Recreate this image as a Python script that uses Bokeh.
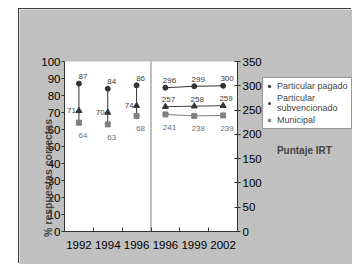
import math
from bokeh.plotting import figure
from bokeh.models import Range1d, LinearAxis, FixedTicker, Label, Legend, LegendItem, BoxAnnotation
from bokeh.embed import file_html
from bokeh.resources import INLINE
from bokeh.core.properties import value

# ---- data ----
years_pct = ["1992", "1994", "1996"]
pagado_pct = [87, 84, 86]
subv_pct = [71, 70, 74]
muni_pct = [64, 63, 68]

years_irt = ["1996", "1999", "2002"]
pagado_irt = [296, 299, 300]
subv_irt = [257, 258, 259]
muni_irt = [241, 238, 239]

pct_ticks = list(range(0, 101, 10))
irt_ticks = list(range(0, 351, 50))

categories = years_pct + years_irt
x_pct = [i + 0.5 for i in range(len(years_pct))]
x_irt = [len(years_pct) + i + 0.5 for i in range(len(years_irt))]

FONT = "Liberation Sans"
DARK = "#333333"
GREY = "#808080"
BG = "#c0c0c0"

# ---- layout geometry (pixels) ----
W, H = 333, 255          # whole chart (grey area)
PL, PR = 45, 218         # plot area left / right inside chart
PT, PB = 52, 222         # plot area top / bottom inside chart
ncat = len(categories)
px_per_cat = (PR - PL) / ncat
pct_max, irt_max = pct_ticks[-1], irt_ticks[-1]
px_per_pct = (PB - PT) / pct_max
px_per_irt = (PB - PT) / irt_max

x_range = Range1d(-PL / px_per_cat, ncat + (W - PR) / px_per_cat)
y_range = Range1d(-(H - PB) / px_per_pct, pct_max + PT / px_per_pct)
irt_range = Range1d(-(H - PB) / px_per_irt, irt_max + PT / px_per_irt)

p = figure(frame_width=W, frame_height=H, min_border=0,
           x_range=x_range, y_range=y_range,
           output_backend="svg", toolbar_location=None,
           background_fill_color=BG, border_fill_color=BG,
           outline_line_color=None, x_axis_location=None, y_axis_location=None)
p.margin = (9, 0, 0, 19)
p.styles = {"box-shadow": "-1px -1px 0 #404040"}
p.grid.visible = False
p.extra_y_ranges = {"irt": irt_range}

# white plot area
p.add_layout(BoxAnnotation(left=0, right=ncat, bottom=0, top=pct_max,
                           fill_color="white", fill_alpha=1, line_color=None, level="underlay"))

# axes
ya = LinearAxis(fixed_location=0, bounds=(0, pct_max),
                ticker=FixedTicker(ticks=pct_ticks, minor_ticks=[]))
p.add_layout(ya, "left")
ra = LinearAxis(y_range_name="irt", fixed_location=ncat, bounds=(0, irt_max),
                ticker=FixedTicker(ticks=irt_ticks, minor_ticks=[]))
p.add_layout(ra, "right")
centers = [i + 0.5 for i in range(ncat)]
xa = LinearAxis(fixed_location=0, bounds=(0, ncat),
                ticker=FixedTicker(ticks=centers, minor_ticks=list(range(1, ncat))))
p.add_layout(xa, "below")
xa.major_label_overrides = {c: lab for c, lab in zip(centers, categories)}
xa.major_tick_line_color = None
xa.major_tick_out = 0
xa.major_tick_in = 0
xa.minor_tick_in = 4
xa.minor_tick_out = 0
xa.major_label_standoff = 9

for ax in (ya, ra, xa):
    ax.axis_line_color = DARK
    ax.major_label_text_font = FONT
    ax.major_label_text_font_size = "11.5px"
    ax.major_label_text_color = "black"
    ax.minor_tick_line_color = DARK
ya.major_tick_line_color = DARK
ya.major_tick_out = 3
ya.major_tick_in = 0
ya.major_label_standoff = 1
ra.major_tick_line_color = DARK
ra.major_tick_out = 3
ra.major_tick_in = 3
ra.major_label_standoff = 2

# divider between the two panels
p.segment(x0=[len(years_pct)], y0=[0], x1=[len(years_pct)], y1=[pct_max],
          line_color=GREY, line_width=1)

# left panel: high-low lines
p.segment(x0=x_pct, y0=muni_pct, x1=x_pct, y1=pagado_pct, line_color=DARK, line_width=1)

# right panel lines
p.line(x_irt, pagado_irt, y_range_name="irt", line_color=DARK, line_width=1)
p.line(x_irt, subv_irt, y_range_name="irt", line_color="#404040", line_width=1)
p.line(x_irt, muni_irt, y_range_name="irt", line_color=GREY, line_width=1)

# markers
r_pag = p.scatter(x_pct, pagado_pct, marker="circle", size=5, color=DARK)
r_sub = p.scatter(x_pct, subv_pct, marker="triangle", size=6, color=DARK)
r_mun = p.scatter(x_pct, muni_pct, marker="square", size=5, color=GREY)
p.scatter(x_irt, pagado_irt, marker="circle", size=5, color=DARK, y_range_name="irt")
p.scatter(x_irt, subv_irt, marker="triangle", size=6, color=DARK, y_range_name="irt")
p.scatter(x_irt, muni_irt, marker="square", size=5, color=GREY, y_range_name="irt")

# data labels
lab_kw = dict(text_font=value(FONT), text_font_size="8px", text_baseline="middle")
p.text(x_pct, pagado_pct, text=[str(v) for v in pagado_pct], x_offset=4, y_offset=-7,
       text_align="center", text_color="#404040", **lab_kw)
p.text(x_pct, subv_pct, text=[str(v) for v in subv_pct], x_offset=-3, y_offset=0,
       text_align="right", text_color="#404040", **lab_kw)
p.text(x_pct, muni_pct, text=[str(v) for v in muni_pct], x_offset=4, y_offset=13,
       text_align="center", text_color="#707070", **lab_kw)
p.text(x_irt, pagado_irt, text=[str(v) for v in pagado_irt], x_offset=4, y_offset=-7,
       text_align="center", text_color="#404040", y_range_name="irt", **lab_kw)
p.text(x_irt, subv_irt, text=[str(v) for v in subv_irt], x_offset=3, y_offset=-7,
       text_align="center", text_color="#404040", y_range_name="irt", **lab_kw)
p.text(x_irt, muni_irt, text=[str(v) for v in muni_irt], x_offset=4, y_offset=13,
       text_align="center", text_color="#707070", y_range_name="irt", **lab_kw)

# legend
legend = Legend(items=[
    LegendItem(label="Particular pagado", renderers=[r_pag]),
    LegendItem(label="Particular\nsubvencionado", renderers=[r_sub]),
    LegendItem(label="Municipal", renderers=[r_mun]),
], location=(243, 135))
legend.label_text_font = FONT
legend.label_text_font_size = "9px"
legend.label_text_line_height = 1.1
legend.label_height = 10
legend.glyph_width = 6
legend.glyph_height = 6
legend.label_standoff = 5
legend.padding = 3
legend.spacing = 2
legend.margin = 0
legend.border_line_color = DARK
legend.background_fill_color = "white"
legend.background_fill_alpha = 1
p.add_layout(legend)

# titles
p.add_layout(Label(x=ncat + 2.32, y=166.8, y_range_name="irt", text="Puntaje IRT",
                   text_font=FONT, text_font_size="10px", text_font_style="bold",
                   text_align="center", text_baseline="middle"))
p.add_layout(Label(x=-0.572, y=31.5, text="% respuestas correctas", angle=math.pi / 2,
                   text_font=FONT, text_font_size="10.5px", text_font_style="bold",
                   text_align="center", text_baseline="middle"))

open("out.html", "w").write(file_html(p, INLINE))
